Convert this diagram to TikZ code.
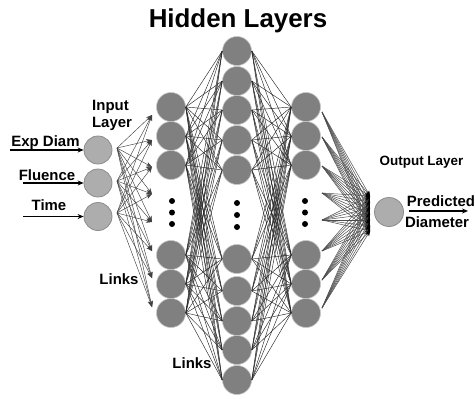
\documentclass[tikz,border=0pt]{standalone}
\usepackage{fontspec}
\setmainfont{Liberation Sans}
\usetikzlibrary{arrows.meta}
\definecolor{hidgray}{HTML}{808080}
\definecolor{inpgray}{HTML}{ADADAD}
\definecolor{inpedge}{HTML}{8C8C8C}
\begin{document}
\begin{tikzpicture}[x=1bp,y=-1bp,
  hid/.style={circle,fill=hidgray,draw=gray!45,line width=0.6bp,minimum size=29bp,inner sep=0},
  io/.style={circle,fill=inpgray,draw=inpedge,line width=0.8bp,minimum size=28bp,inner sep=0},
  lbl/.style={font=\bfseries\fontsize{15}{18}\selectfont,anchor=base,inner sep=0},
  lnk/.style={draw=black!85,line width=0.45bp},
  inl/.style={draw=black!75,line width=0.45bp,-{Stealth[length=6bp,width=4.5bp]}},
  outl/.style={draw=black!70,line width=0.5bp,-{Stealth[length=5bp,width=4bp,color=black]}},
  feed/.style={line width=1.4bp,-{Stealth[length=6bp,width=5bp]}},
  dotn/.style={circle,fill=black,minimum size=6bp,inner sep=0}]
\useasboundingbox (0,0) rectangle (475,398);
% hidden layers
\foreach \y [count=\i] in {107,136,165,255,284,313} \node[hid] (a\i) at (171,\y) {};
\foreach \y [count=\i] in {51,81,110,140,170,259,291,321,350,380} \node[hid] (b\i) at (237,\y) {};
\foreach \y [count=\i] in {107,136,165,255,284,313} \node[hid] (c\i) at (306,\y) {};
% hidden links
\foreach \i in {1,...,6} \foreach \j in {1,...,10} {
  \draw[lnk] (a\i.east) -- (b\j.west);
  \draw[lnk] (b\j.east) -- (c\i.west);
}
% dots
\foreach \y [count=\i] in {201,212.5,224} \node[dotn] (da\i) at (172,\y) {};
\foreach \y [count=\i] in {203,215,227} \node[dotn] (db\i) at (237,\y) {};
\foreach \y [count=\i] in {201,212.5,224} \node[dotn] (dc\i) at (305,\y) {};
% input layer
\node[io] (in1) at (98,150) {};
\node[io] (in2) at (98,183) {};
\node[io] (in3) at (98,216.5) {};
\coordinate (s1) at (117,148);
\coordinate (s2) at (117,181);
\coordinate (s3) at (117,213);
\foreach \y [count=\m] in {115,140,167,194,222,251,278,307} \coordinate (t\m) at (152,\y);
\foreach \k in {1,2,3} \foreach \m in {1,...,8} \draw[inl] (s\k) -- (t\m);
% feed arrows
\coordinate (e1) at (10,150);
\coordinate (e2) at (23,183);
\coordinate (e3) at (23,216.5);
\draw[feed] (e1) -- (in1.west);
\draw[feed] (e2) -- (in2.west);
\draw[feed] (e3) -- (in3.west);
% output layer
\node[io,minimum size=29bp] (out) at (389,212) {};
\foreach \y [count=\k] in {112,137,166,193,220,251,280,308} \coordinate (u\k) at (322,\y);
\foreach \y [count=\m] in {196,202,208,214,220,226,231} \coordinate (v\m) at (370,\y);
\foreach \k in {1,...,8} \foreach \m in {1,...,7} \draw[outl] (u\k) -- (v\m);
\coordinate (p1) at (409,211);
\coordinate (p2) at (468,211);
\draw[feed] (p1) -- (p2);
% labels
\node[lbl,font=\bfseries\fontsize{26}{30}\selectfont] (title) at (238,27) {Hidden Layers};
\node[lbl] (lin1) at (110.5,110) {Input};
\node[lbl] (lin2) at (112,127) {Layer};
\node[lbl] (lexp) at (45.5,146.5) {Exp Diam};
\node[lbl] (lflu) at (47,180) {Fluence};
\node[lbl] (ltim) at (49,210.5) {Time};
\node[lbl] (llk1) at (119,284) {Links};
\node[lbl] (llk2) at (192,368) {Links};
\node[lbl,font=\bfseries\fontsize{13.5}{16}\selectfont] (lout) at (421.5,165) {Output Layer};
\node[lbl] (lpre) at (441,206.5) {Predicted};
\node[lbl] (ldia) at (437,227) {Diameter};
\end{tikzpicture}
\end{document}
